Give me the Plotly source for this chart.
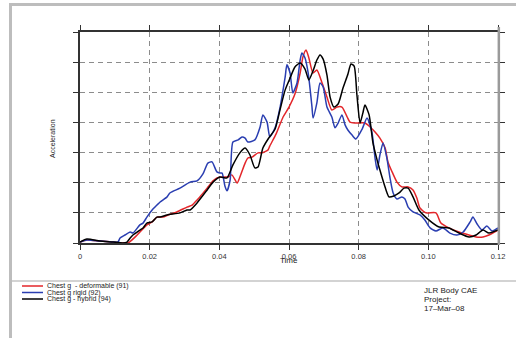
import plotly.graph_objects as go

# ---- data (time in s, acceleration in g) ----
t_def = [0, 0.002, 0.0057, 0.0095, 0.0123, 0.0138, 0.0164, 0.0192, 0.0207, 0.0221, 0.0238, 0.0253,
         0.0278, 0.0307, 0.0322, 0.0336, 0.0344, 0.0365, 0.0382, 0.0393, 0.0408, 0.0425, 0.0436,
         0.0451, 0.0459, 0.0474, 0.0482, 0.0494, 0.0511, 0.0522, 0.0540, 0.0545, 0.0563, 0.0583,
         0.0600, 0.0617, 0.0632, 0.0640, 0.0649, 0.0657, 0.0669, 0.0680, 0.0695, 0.0709, 0.0723,
         0.0738, 0.0752, 0.0767, 0.0775, 0.0789, 0.0818, 0.0833, 0.0847, 0.0861, 0.0876, 0.0884,
         0.0896, 0.0910, 0.0924, 0.0942, 0.0956, 0.0967, 0.0976, 0.0993, 0.1022, 0.1036, 0.1059,
         0.1088, 0.1117, 0.1137, 0.1157, 0.1174, 0.1200]
a_def = [0.3, 1.0, 0.66, 0.33, 0, 0, 2.65, 6.0, 7.0, 8.6, 8.6, 9.3,
         10.3, 11.9, 12.6, 14.3, 15.3, 18.2, 20.6, 21.6, 21.9, 21.9, 22.6,
         19.9, 21.9, 26.5, 28.2, 28.5, 29.9, 29.9, 30.9, 32.2, 36.2, 41.8,
         45.1, 49.4, 56.4, 61.7, 64.0, 61.4, 56.4, 57.4, 53.1, 48.4, 44.1,
         45.1, 45.1, 41.8, 40.1, 39.8, 39.8, 38.5, 36.8, 34.8, 31.5, 26.9,
         23.6, 20.2, 18.6, 18.6, 17.6, 14.9, 11.6, 10.0, 10.0, 6.6, 5.0,
         3.65, 2.65, 2.0, 2.0, 2.65, 4.3]

t_rig = [0, 0.002, 0.0057, 0.0095, 0.0109, 0.0115, 0.0129, 0.0144, 0.0152, 0.0172, 0.0181, 0.0192,
         0.0207, 0.0221, 0.0230, 0.0250, 0.0258, 0.0287, 0.0316, 0.0336, 0.0353, 0.0367, 0.0379,
         0.0393, 0.0402, 0.0408, 0.0416, 0.0422, 0.0431, 0.0439, 0.0454, 0.0465, 0.0474, 0.0482,
         0.0502, 0.0517, 0.0525, 0.0537, 0.0545, 0.0560, 0.0574, 0.0589, 0.0594, 0.0603, 0.0611,
         0.0623, 0.0632, 0.0637, 0.0646, 0.0655, 0.0666, 0.0669, 0.0680, 0.0689, 0.0698, 0.0709,
         0.0723, 0.0732, 0.0741, 0.0752, 0.0761, 0.0769, 0.0781, 0.0792, 0.0810, 0.0824, 0.0838,
         0.0847, 0.0853, 0.0861, 0.0870, 0.0881, 0.0890, 0.0899, 0.0910, 0.0924, 0.0933, 0.0942,
         0.0956, 0.0976, 0.0990, 0.1005, 0.1022, 0.1042, 0.1062, 0.1082, 0.1100, 0.1120, 0.1128,
         0.1140, 0.1154, 0.1168, 0.1183, 0.1200]
a_rig = [0.3, 1.0, 0.66, 0.33, 0.33, 1.66, 2.65, 3.65, 3.3, 6.0, 6.6, 8.6,
         10.95, 12.6, 13.6, 15.3, 16.6, 18.2, 20.2, 20.6, 22.9, 26.5, 26.9,
         23.6, 23.2, 23.2, 18.9, 17.3, 20.9, 33.5, 34.2, 35.2, 34.8, 33.5,
         34.2, 38.5, 42.5, 40.1, 35.2, 38.2, 44.8, 55.1, 59.1, 56.4, 49.8,
         53.1, 60.7, 63.0, 61.4, 56.4, 45.1, 41.5, 46.5, 53.1, 51.8, 45.1,
         41.8, 38.2, 39.8, 42.5, 39.2, 37.5, 35.8, 34.5, 37.8, 41.5, 36.8,
         28.2, 24.2, 29.2, 33.2, 28.2, 21.6, 16.6, 14.6, 15.3, 14.6, 11.9,
         10.3, 9.3, 7.6, 5.0, 4.0, 5.0, 3.3, 2.65, 3.65, 7.0, 8.6,
         6.3, 4.3, 5.6, 4.0, 5.0]

t_hyb = [0, 0.002, 0.0057, 0.0095, 0.0123, 0.0135, 0.0144, 0.0152, 0.0172, 0.0181, 0.0192, 0.0207,
         0.0221, 0.0230, 0.0250, 0.0287, 0.0307, 0.0316, 0.0336, 0.0365, 0.0382, 0.0402, 0.0422,
         0.0439, 0.0459, 0.0474, 0.0488, 0.0502, 0.0511, 0.0525, 0.0540, 0.0560, 0.0574, 0.0589,
         0.0603, 0.0617, 0.0632, 0.0646, 0.0657, 0.0669, 0.0680, 0.0689, 0.0698, 0.0709, 0.0718,
         0.0729, 0.0741, 0.0755, 0.0769, 0.0778, 0.0787, 0.0795, 0.0804, 0.0812, 0.0818, 0.0830,
         0.0841, 0.0853, 0.0861, 0.0873, 0.0887, 0.0901, 0.0916, 0.0930, 0.0942, 0.0956, 0.0973,
         0.1002, 0.1031, 0.1059, 0.1088, 0.1117, 0.1137, 0.1157, 0.1174, 0.1200]
a_hyb = [0.3, 1.3, 0.66, 0.33, 0, 0.33, 1.66, 2.65, 4.3, 5.0, 6.6, 7.0,
         8.6, 8.6, 9.3, 10.0, 10.95, 10.95, 13.3, 17.6, 20.2, 21.9, 21.6,
         25.9, 29.9, 31.5, 29.2, 24.9, 25.2, 31.5, 34.5, 37.8, 44.1, 50.8,
         54.7, 58.4, 59.7, 57.7, 54.1, 57.1, 60.7, 62.4, 61.0, 55.7, 48.4,
         45.1, 46.1, 51.4, 56.0, 59.4, 58.7, 49.1, 39.8, 43.1, 45.8, 42.5,
         33.2, 27.5, 24.2, 19.6, 15.3, 15.6, 16.6, 18.2, 18.2, 15.3, 10.95,
         7.6, 5.3, 5.0, 3.3, 2.0, 2.65, 4.3, 3.3, 4.3]

series_names = ["Chest g  - deformable (91)", "Chest g rigid (92)", "Chest g - hybrid (94)"]
series_colors = ["#e3262a", "#2a3eb1", "#000000"]

tick_vals = [0, 0.02, 0.04, 0.06, 0.08, 0.10, 0.12]
tick_text = ["0", "0.02", "0.04", "0.06", "0.08", "0.10", "0.12"]
y_ticks = [0, 10, 20, 30, 40, 50, 60, 70]

info_lines = ["JLR Body CAE", "Project:", "17\u2013Mar\u201308"]

FONT = "Liberation Sans, Arial, sans-serif"

fig = go.Figure()
for t, a, name, col in zip([t_def, t_rig, t_hyb], [a_def, a_rig, a_hyb], series_names, series_colors):
    fig.add_trace(go.Scatter(x=t, y=a, mode="lines", name=name,
                             line=dict(color=col, width=1.5, shape="spline", smoothing=0.6),
                             showlegend=False, hoverinfo="skip"))

# helper: pixel -> paper
L, R, T, B = 80, 498, 32, 243
def px(x):
    return (x - L) / (R - L)
def py(y):
    return (B - y) / (B - T)

shapes = []
# window frame
shapes.append(dict(type="line", xref="paper", yref="paper", x0=px(9), x1=px(516), y0=py(4.5), y1=py(4.5),
                   line=dict(color="#bdbdbd", width=3)))
shapes.append(dict(type="line", xref="paper", yref="paper", x0=px(10.5), x1=px(10.5), y0=py(3), y1=py(338),
                   line=dict(color="#bdbdbd", width=3)))
shapes.append(dict(type="line", xref="paper", yref="paper", x0=px(12), x1=px(516), y0=py(281), y1=py(281),
                   line=dict(color="#c4c4c4", width=1.5)))
# right axis (grey, thicker)
shapes.append(dict(type="line", xref="paper", yref="paper", x0=1.002, x1=1.002, y0=py(245), y1=py(27),
                   line=dict(color="#9a9a9a", width=2.5), layer="above"))

annotations = []
# legend
leg_y = [286, 292.5, 299]
for name, col, yy in zip(series_names, series_colors, leg_y):
    shapes.append(dict(type="line", xref="paper", yref="paper", x0=px(22), x1=px(43), y0=py(yy), y1=py(yy),
                       line=dict(color=col, width=1.5)))
    annotations.append(dict(xref="paper", yref="paper", x=px(46), y=py(yy), text=name, showarrow=False,
                            xanchor="left", yanchor="middle", borderpad=0,
                            font=dict(family=FONT, size=7, color="#222")))
for txt, yy in zip(info_lines, [290, 299, 308]):
    annotations.append(dict(xref="paper", yref="paper", x=px(422), y=py(yy), text=txt, showarrow=False,
                            xanchor="left", yanchor="middle", font=dict(family=FONT, size=8, color="#222")))
# axis titles
annotations.append(dict(xref="paper", yref="paper", x=px(289), y=py(260), text="Time", showarrow=False,
                        xanchor="center", yanchor="middle", font=dict(family=FONT, size=8, color="#222")))
annotations.append(dict(xref="paper", yref="paper", x=px(52), y=py(139), text="Acceleration", showarrow=False,
                        textangle=-90, xanchor="center", yanchor="middle",
                        font=dict(family=FONT, size=7, color="#222")))

fig.update_layout(
    width=516, height=338,
    margin=dict(l=L, r=516 - R, t=T, b=338 - B, pad=0),
    paper_bgcolor="white", plot_bgcolor="white",
    shapes=shapes, annotations=annotations,
    font=dict(family=FONT, size=8, color="#333"),
)
fig.update_xaxes(range=[0, 0.12], tickvals=tick_vals, ticktext=tick_text,
                 showline=True, linecolor="#333", linewidth=1.5, mirror="ticks",
                 ticks="outside", ticklen=5, tickcolor="#333", tickwidth=1,
                 showgrid=True, gridcolor="#8c8c8c", gridwidth=1, griddash="5px,4px",
                 zeroline=False, tickfont=dict(family=FONT, size=7.5, color="#333"))
fig.update_yaxes(range=[0, 70], tickvals=y_ticks, showticklabels=False,
                 showline=True, linecolor="#333", linewidth=1.5, mirror="ticks",
                 ticks="outside", ticklen=5, tickcolor="#333", tickwidth=1,
                 showgrid=True, gridcolor="#8c8c8c", gridwidth=1, griddash="5px,4px",
                 zeroline=False)

fig.write_html("out.html")
